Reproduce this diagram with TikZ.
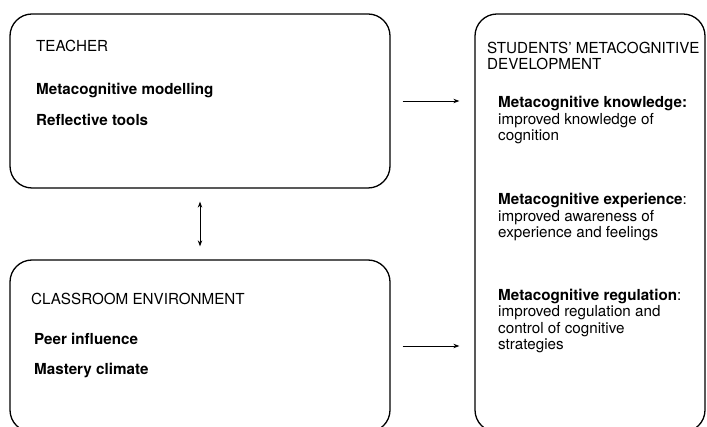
\documentclass[tikz,border=0pt]{standalone}
\usepackage{fontspec}
\setsansfont{TeX Gyre Heros}
\usetikzlibrary{arrows.meta}

\begin{document}
\begin{tikzpicture}[x=1pt, y=-1pt, font=\sffamily\fontsize{15.2}{16.6}\selectfont,
    box/.style={draw, line width=1.3pt, rounded corners=22pt, inner sep=0pt},
    txt/.style={anchor=base west, inner sep=0pt, align=left},
    link/.style={line width=0.9pt, {Stealth[length=6pt, width=4.5pt]}-{Stealth[length=6pt, width=4.5pt]}}]
        \useasboundingbox (0,0) rectangle (707,427);
        \clip (0,0) rectangle (707,427);
        % boxes
        \node[box, minimum width=380pt, minimum height=174pt] (teacher) at (200,101) {};
        \node[box, minimum width=380pt, minimum height=172pt] (classroom) at (200,346) {};
        \node[box, minimum width=230pt, minimum height=418pt] (students) at (590,223) {};
        % left texts
        \node[txt] (teacherhead) at (36,52) {TEACHER};
        \node[txt] (modelling) at (36,95) {\textbf{Metacognitive modelling}};
        \node[txt] (tools) at (36,126) {\textbf{Reflective tools}};
        \node[txt] (classhead) at (31,305) {CLASSROOM ENVIRONMENT};
        \node[txt] (peer) at (34,345) {\textbf{Peer influence}};
        \node[txt] (mastery) at (34,375) {\textbf{Mastery climate}};
        % right texts (base = last line)
        \node[txt] (studhead) at (487,70) {STUDENTS’ METACOGNITIVE\\DEVELOPMENT};
        \node[txt] (knowledge) at (498,141) {\textbf{Metacognitive knowledge:}\\improved knowledge of\\cognition};
        \node[txt] (experience) at (498,238) {\textbf{Metacognitive experience}:\\improved awareness of\\experience and feelings};
        \node[txt] (regulation) at (498,350) {\textbf{Metacognitive regulation}:\\improved regulation and\\control of cognitive\\strategies};
        % arrows
        \draw[link, shorten <=13pt, shorten >=13pt] (teacher.south) -- (classroom.north);
        \draw[link, -{Stealth[length=6pt, width=4.5pt]}, shorten <=12pt, shorten >=15pt] (teacher.east) -- (teacher.east -| students.west);
        \draw[link, -{Stealth[length=6pt, width=4.5pt]}, shorten <=12pt, shorten >=15pt] (classroom.east) -- (classroom.east -| students.west);
\end{tikzpicture}
\end{document}
